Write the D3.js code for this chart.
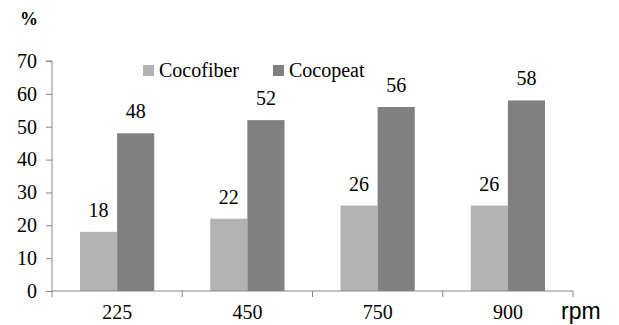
<!DOCTYPE html>
<html>
<head>
<meta charset="utf-8">
<script src="https://cdn.jsdelivr.net/npm/d3@7"></script>
<style>
  body { margin: 0; background: #fff; }
  svg text.serif { font-family: "Liberation Serif" !important; }
  svg text.sans { font-family: "Liberation Sans" !important; }
</style>
</head>
<body>
<script>
var speeds = ['225', '450', '750', '900']
var series = ['Cocofiber', 'Cocopeat']
var cocofiber = [18, 22, 26, 26]
var cocopeat = [48, 52, 56, 58]
var yTicks = [0, 10, 20, 30, 40, 50, 60, 70]

var serif = "Liberation Serif"

var data = speeds.map(function(s, i) {
    return { speed: s, Cocofiber: cocofiber[i], Cocopeat: cocopeat[i] }
})

var margin = {top: 61, right: 46, bottom: 34, left: 52},
    width = 619 - margin.left - margin.right,
    height = 325 - margin.top - margin.bottom;

var svg = d3.select("body")
    .append("svg")
    .attr("width", 619)
    .attr("height", 325)
    .append("g")
    .attr("transform", "translate(" + margin.left + "," + margin.top + ")");

var color = d3.scaleOrdinal()
    .domain(series)
    .range(['#b3b3b3', '#808080']);

// scales
var x0 = d3.scaleBand()
    .domain(speeds)
    .range([0, width])
    .paddingInner(0)
    .paddingOuter(0);

var x1 = d3.scaleBand()
    .domain(series)
    .range([28, x0.bandwidth() - 28]);

var y = d3.scaleLinear()
    .domain([0, 70])
    .range([height, 0]);

// y axis
var yAxis = svg.append("g")
    .call(d3.axisLeft(y).tickValues(yTicks).tickSize(6).tickPadding(9))
yAxis.attr("font-family", null)
yAxis.selectAll("text")
    .attr("class", "serif")
    .attr("fill", "#000")
    .style("font-family", serif, "important")
    .style("font-size", "20px")
yAxis.selectAll("line").attr("stroke", "#868686")
yAxis.select(".domain").attr("stroke", "#868686").attr("d", "M-6,0H0V" + height)

// bars
var groups = svg.selectAll("g.grp")
    .data(data)
    .enter()
    .append("g")
    .attr("class", "grp")
    .attr("transform", function(d) { return "translate(" + x0(d.speed) + ",0)" })

groups.selectAll("rect")
    .data(function(d) { return series.map(function(k) { return {key: k, value: d[k]} }) })
    .enter()
    .append("rect")
    .attr("x", function(d) { return x1(d.key) })
    .attr("y", function(d) { return y(d.value) })
    .attr("width", x1.bandwidth())
    .attr("height", function(d) { return height - y(d.value) })
    .attr("fill", function(d) { return color(d.key) })

groups.selectAll("text.val")
    .data(function(d) { return series.map(function(k) { return {key: k, value: d[k]} }) })
    .enter()
    .append("text")
    .attr("class", "val serif")
    .attr("x", function(d) { return x1(d.key) + x1.bandwidth() / 2 })
    .attr("y", function(d) { return y(d.value) - 15 })
    .attr("text-anchor", "middle")
    .style("font-family", serif, "important")
    .style("font-size", "20px")
    .text(function(d) { return d.value })

// x axis
var xAxis = svg.append("g")
    .attr("transform", "translate(0," + height + ")")
    .call(d3.axisBottom(x0).tickSize(0).tickPadding(14))
xAxis.attr("font-family", null)
xAxis.selectAll("text")
    .attr("class", "serif")
    .attr("fill", "#000")
    .style("font-family", serif, "important")
    .style("font-size", "20px")
xAxis.select(".domain").attr("stroke", "#868686").attr("d", "M0,0H" + width)

// category separators
svg.selectAll("line.sep")
    .data(d3.range(speeds.length + 1))
    .enter()
    .append("line")
    .attr("class", "sep")
    .attr("x1", function(i) { return i * x0.bandwidth() })
    .attr("x2", function(i) { return i * x0.bandwidth() })
    .attr("y1", height)
    .attr("y2", height + 6)
    .attr("stroke", "#868686")

// axis labels
svg.append("text")
    .attr("class", "serif")
    .attr("x", -32)
    .attr("y", -36)
    .style("font-family", serif, "important")
    .style("font-size", "18px")
    .style("font-weight", "bold")
    .text("%")

svg.append("text")
    .attr("class", "sans")
    .attr("x", width - 12)
    .attr("y", height + 28)
    .style("font-family", "Liberation Sans", "important")
    .style("font-size", "23px")
    .text("rpm")

// legend
var legendX = [91, 221]
var leg = svg.selectAll("g.leg")
    .data(series)
    .enter()
    .append("g")
    .attr("class", "leg")
    .attr("transform", function(d, i) { return "translate(" + legendX[i] + ",4)" })

leg.append("rect")
    .attr("width", 11)
    .attr("height", 11)
    .attr("fill", function(d) { return color(d) })

leg.append("text")
    .attr("class", "serif")
    .attr("x", 16)
    .attr("y", 12)
    .style("font-family", serif, "important")
    .style("font-size", "20px")
    .text(function(d) { return d })
</script>
</body>
</html>
